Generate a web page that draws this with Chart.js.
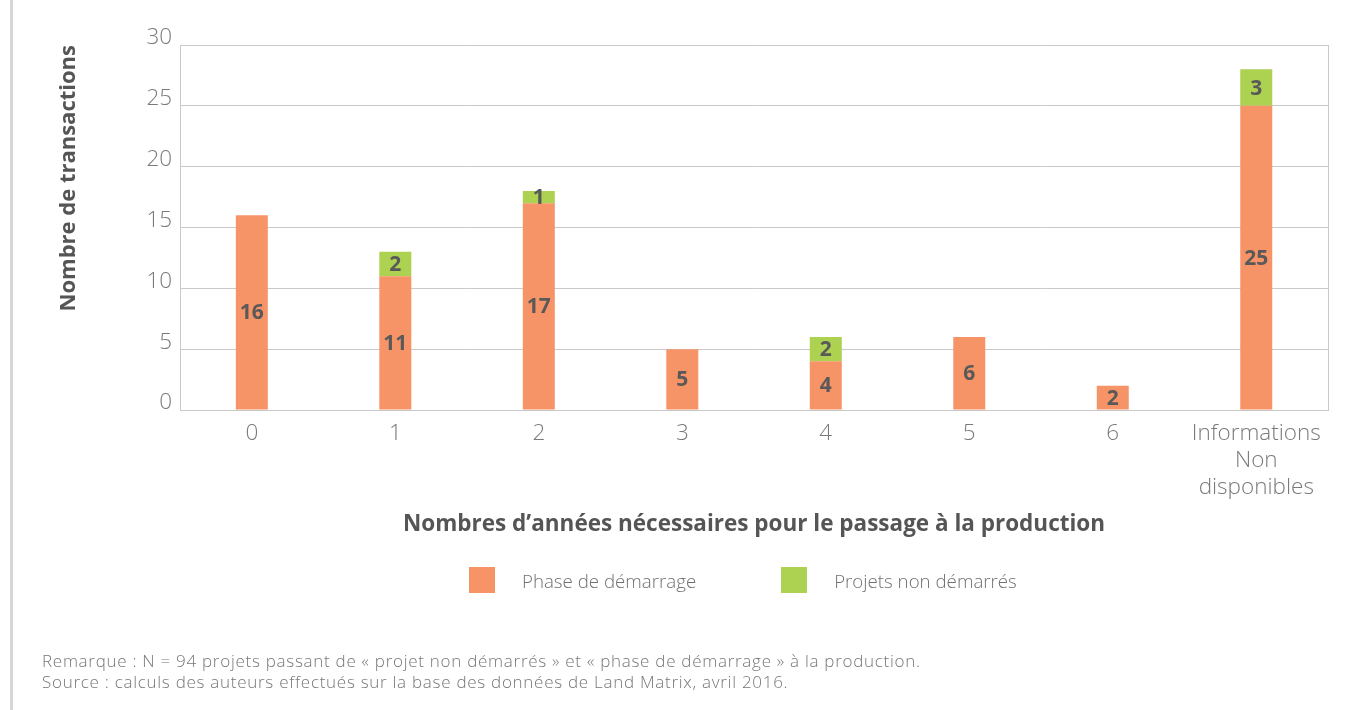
<!DOCTYPE html>
<html>
<head>
<meta charset="utf-8">
<script src="https://cdn.jsdelivr.net/npm/chart.js@4.4.0/dist/chart.umd.min.js"></script>
<style>
  html, body { margin: 0; padding: 0; background: #fff; }
  #wrap { position: relative; width: 1360px; height: 710px; font-family: 'Open Sans', sans-serif; }
  #leftRule { position: absolute; left: 10px; top: 0; width: 3px; height: 710px; background: #d6d6d6; }
  #legend { position: absolute; left: 469px; top: 567px; display: flex; align-items: center; }
  .item { display: flex; align-items: center; margin-right: 85px; }
  .box { width: 26px; height: 26px; margin-right: 27px; }
  .item span { font-size: 18.7px; font-weight: 300; color: #707070; }
  #note { position: absolute; left: 42px; top: 650px; font-size: 17px; line-height: 21px; color: #777;
          font-weight: 300; letter-spacing: 0.72px; white-space: nowrap; }
</style>
</head>
<body>
<div id="wrap">
  <div id="leftRule"></div>
  <canvas id="chart" width="1360" height="710"></canvas>
  <div id="legend"></div>
  <div id="note">
    Remarque : N = 94 projets passant de « projet non démarrés » et « phase de démarrage » à la production.<br>
    Source : calculs des auteurs effectués sur la base des données de Land Matrix, avril 2016.
  </div>
</div>
<script>
// data
const categories = ['0', '1', '2', '3', '4', '5', '6', ['Informations', 'Non', 'disponibles']];
const phaseDemarrage = [16, 11, 17, 5, 4, 6, 2, 25];
const projetsNonDemarres = [null, 2, 1, null, 2, null, null, 3];
const yTicks = [0, 5, 10, 15, 20, 25, 30];

const ORANGE = '#F79467';
const GREEN = '#ADD150';
const GRID = '#c9c9c9';

// numbers in the middle of each segment
const segmentLabels = {
    id: 'segmentLabels',
    afterDatasetsDraw(chart) {
        const ctx = chart.ctx;
        ctx.save();
        ctx.font = 'bold 21px "Open Sans"';
        ctx.fillStyle = '#595959';
        ctx.textAlign = 'center';
        ctx.textBaseline = 'middle';
        chart.data.datasets.forEach((ds, i) => {
            const meta = chart.getDatasetMeta(i);
            meta.data.forEach((bar, j) => {
                const v = ds.data[j];
                if (v === null || v === undefined) return;
                ctx.fillText(String(v), bar.x, (bar.y + bar.base) / 2 + 1);
            });
        });
        ctx.restore();
    }
};

// right edge of the plot frame
const frame = {
    id: 'frame',
    afterDraw(chart) {
        const a = chart.chartArea;
        const ctx = chart.ctx;
        ctx.save();
        ctx.strokeStyle = GRID;
        ctx.lineWidth = 1;
        ctx.beginPath();
        ctx.moveTo(Math.round(a.right) + 0.5, a.top);
        ctx.lineTo(Math.round(a.right) + 0.5, a.bottom);
        ctx.stroke();
        ctx.restore();
    }
};

const ctx = document.getElementById('chart').getContext('2d');
const chart = new Chart(ctx, {
    type: 'bar',
    data: {
        labels: categories,
        datasets: [{
            label: 'Phase de démarrage',
            data: phaseDemarrage,
            backgroundColor: ORANGE,
            barPercentage: 0.223,
            categoryPercentage: 1
        }, {
            label: 'Projets non démarrés',
            data: projetsNonDemarres,
            backgroundColor: GREEN,
            barPercentage: 0.223,
            categoryPercentage: 1
        }]
    },
    options: {
        responsive: false,
        animation: false,
        layout: { padding: { top: 45, right: 32, bottom: 168, left: 52 } },
        plugins: {
            legend: { display: false },
            tooltip: { enabled: false }
        },
        scales: {
            x: {
                stacked: true,
                grid: { display: false, drawTicks: false },
                border: { color: GRID },
                ticks: {
                    color: '#7a7a7a',
                    font: { family: 'Open Sans', size: 22.5, weight: 300, lineHeight: 1.2 },
                    padding: 10,
                    maxRotation: 0
                },
                title: {
                    display: true,
                    text: 'Nombres d\u2019années nécessaires pour le passage à la production',
                    color: '#555',
                    font: { family: 'Open Sans', size: 22.5, weight: 'bold' },
                    padding: { top: 0 }
                }
            },
            y: {
                stacked: true,
                min: 0,
                max: 30,
                afterBuildTicks: (axis) => { axis.ticks = yTicks.map(v => ({ value: v })); },
                grid: { color: GRID, drawTicks: false },
                border: { color: GRID },
                ticks: {
                    color: '#7a7a7a',
                    font: { family: 'Open Sans', size: 22.5, weight: 300 },
                    padding: 8,
                    labelOffset: -7
                },
                title: {
                    display: true,
                    align: 'end',
                    text: 'Nombre de transactions',
                    color: '#555',
                    font: { family: 'Open Sans', size: 22, weight: 'bold' },
                    padding: { bottom: 56 }
                }
            }
        }
    },
    plugins: [segmentLabels, frame]
});

// html legend built from the datasets
const legend = document.getElementById('legend');
chart.data.datasets.forEach(ds => {
    const item = document.createElement('div');
    item.className = 'item';
    const box = document.createElement('div');
    box.className = 'box';
    box.style.background = ds.backgroundColor;
    const txt = document.createElement('span');
    txt.textContent = ds.label;
    item.appendChild(box);
    item.appendChild(txt);
    legend.appendChild(item);
});
</script>
</body>
</html>
